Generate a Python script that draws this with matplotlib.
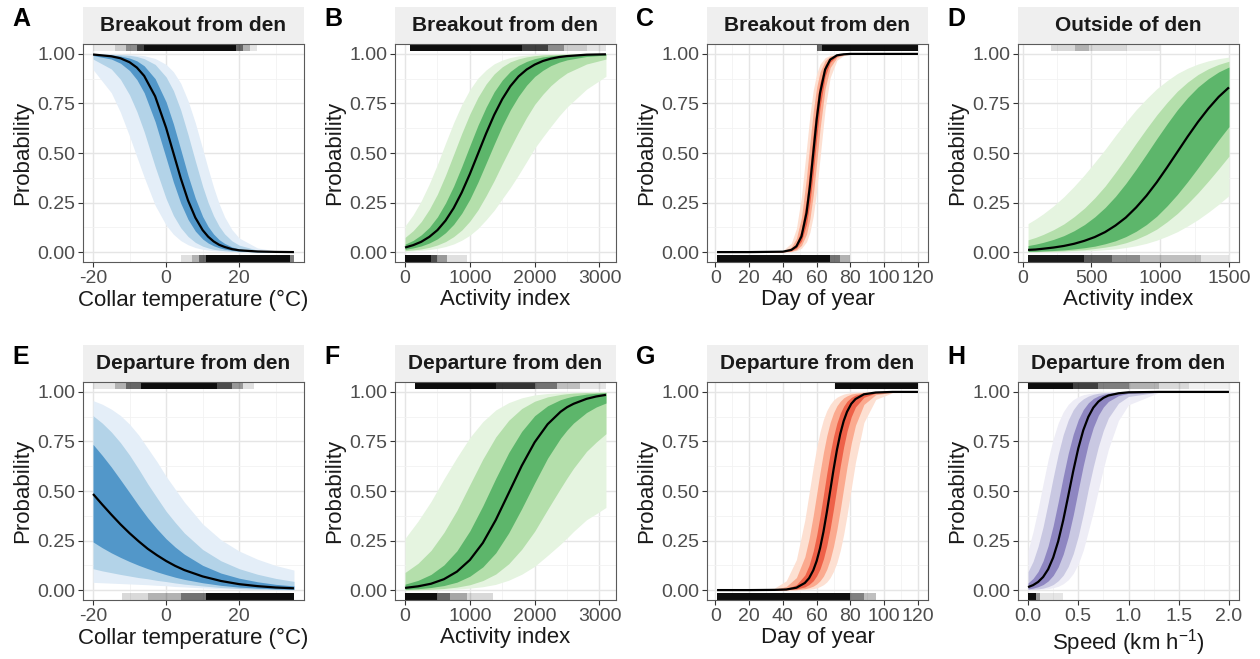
import matplotlib
matplotlib.use('Agg')
import matplotlib.pyplot as plt
import matplotlib.transforms as mtransforms
from matplotlib.patches import Rectangle

plt.rcParams['font.family'] = ['Liberation Sans', 'DejaVu Sans']
plt.rcParams['mathtext.default'] = 'regular'
plt.rcParams['axes.unicode_minus'] = False

# ---- panel A: breakout vs collar temperature
a_x = [-20, -15, -12.5, -10, -8, -6, -3, 0, 2, 4, 6, 8, 10, 11.5, 13, 14.5, 16, 18, 20, 25, 30, 35]
a_med = [.997, .988, .978, .958, .931, .889, .786, .627, .500, .373, .261, .174, .111, .078, .054, .037, .026, .015, .009, .003, .001, .000]
a_lo50 = [.992, .974, .953, .916, .870, .804, .658, .475, .353, .247, .165, .106, .066, .046, .032, .022, .015, .009, .005, .001, .000, .000]
a_hi50 = [.999, .995, .989, .979, .965, .940, .875, .758, .647, .518, .387, .272, .180, .129, .091, .063, .044, .026, .016, .004, .001, .000]
a_lo90 = [.974, .924, .872, .793, .709, .607, .431, .270, .185, .123, .079, .049, .030, .021, .014, .010, .007, .004, .002, .001, .000, .000]
a_hi90 = [1.0, .998, .996, .993, .987, .976, .947, .884, .815, .717, .593, .460, .332, .250, .183, .131, .092, .057, .035, .010, .003, .001]
a_lo99 = [.921, .804, .705, .584, .480, .378, .236, .136, .090, .058, .037, .023, .014, .010, .007, .005, .003, .002, .001, .000, .000, .000]
a_hi99 = [1.0, .999, .999, .997, .995, .991, .977, .947, .910, .852, .764, .652, .521, .421, .327, .245, .178, .114, .071, .021, .006, .002]
a_rug_top = [(-20, -14, .08), (-14, -11, .2), (-11, -8, .45), (-8, -6, .75), (-6, 19, .95),
             (19, 21, .6), (21, 23, .3), (23, 25, .1)]
a_rug_bot = [(4, 7, .12), (7, 9, .3), (9, 11, .6), (11, 34, .95), (34, 35, .5)]

# ---- panel B: breakout vs activity
b_x = [0, 125, 250, 375, 500, 625, 750, 875, 1000, 1125, 1250, 1375, 1500, 1625, 1750, 1875, 2000, 2125, 2250, 2375, 2500, 2800, 3100]
b_med = [.023, .035, .052, .077, .111, .159, .222, .301, .394, .496, .598, .692, .772, .837, .886, .921, .946, .964, .976, .984, .989, .996, .998]
b_lo50 = [.014, .021, .031, .046, .067, .098, .140, .196, .267, .353, .448, .544, .637, .718, .786, .842, .886, .917, .941, .958, .970, .987, .994]
b_hi50 = [.040, .059, .087, .125, .178, .248, .333, .432, .537, .640, .731, .809, .868, .912, .942, .962, .976, .985, .990, .994, .996, .999, 1.0]
b_lo90 = [.007, .011, .016, .024, .036, .053, .078, .111, .156, .213, .284, .361, .445, .526, .605, .679, .745, .796, .840, .875, .904, .949, .974]
b_hi90 = [.074, .108, .154, .216, .293, .388, .493, .599, .697, .781, .848, .899, .935, .960, .975, .985, .991, .995, .997, .998, .999, 1.0, 1.0]
b_lo99 = [.004, .006, .009, .013, .019, .028, .041, .060, .085, .119, .163, .211, .269, .326, .389, .456, .524, .580, .634, .686, .732, .822, .887]
b_hi99 = [.132, .188, .259, .345, .443, .550, .653, .745, .820, .878, .919, .950, .969, .982, .990, .994, .997, .998, .999, .999, 1.0, 1.0, 1.0]
b_rug_top = [(80, 1800, .95), (1800, 2200, .75), (2200, 2450, .45), (2450, 2800, .2), (2800, 3100, .1)]
b_rug_bot = [(0, 400, .95), (400, 500, .7), (500, 650, .4), (650, 950, .12)]

# ---- panel C: breakout vs day of year
c_x = [1, 20, 40, 45, 48, 51, 54, 56, 58, 60, 62, 65, 68, 72, 76, 80, 90, 120]
c_med = [0, 0, .002, .011, .029, .079, .198, .332, .500, .668, .802, .921, .971, .993, .998, 1.0, 1.0, 1.0]
c_lo50 = [0, 0, .001, .007, .020, .055, .142, .250, .401, .574, .731, .886, .957, .989, .997, .999, 1.0, 1.0]
c_hi50 = [0, 0, .003, .016, .043, .114, .269, .426, .599, .750, .858, .945, .980, .995, .999, 1.0, 1.0, 1.0]
c_lo90 = [0, 0, .001, .004, .012, .034, .091, .168, .289, .450, .622, .825, .931, .982, .996, .999, 1.0, 1.0]
c_hi90 = [0, 0, .005, .025, .069, .175, .378, .550, .711, .832, .909, .966, .988, .997, .999, 1.0, 1.0, 1.0]
c_lo99 = [0, 0, 0, .002, .007, .019, .052, .100, .182, .310, .475, .721, .881, .968, .992, .998, 1.0, 1.0]
c_hi99 = [0, 0, .008, .045, .119, .279, .525, .690, .818, .900, .948, .981, .993, .998, 1.0, 1.0, 1.0, 1.0]
c_rug_top = [(60, 63, .6), (63, 120, .95)]
c_rug_bot = [(1, 68, .95), (68, 74, .55), (74, 80, .3)]

# ---- panel D: outside of den vs activity
d_x = [40, 95, 150, 225, 300, 375, 450, 525, 600, 675, 750, 825, 900, 975, 1050, 1125, 1200, 1275, 1350, 1425, 1500]
d_med = [.011, .013, .017, .023, .031, .042, .057, .076, .101, .134, .174, .225, .284, .352, .427, .505, .583, .657, .724, .783, .831]
d_lo50 = [.003, .004, .006, .008, .011, .016, .022, .030, .042, .057, .078, .105, .139, .181, .233, .291, .356, .425, .496, .566, .633]
d_hi50 = [.033, .040, .049, .064, .083, .108, .139, .178, .225, .281, .346, .418, .494, .572, .647, .718, .780, .833, .875, .909, .934]
d_lo90 = [.002, .002, .003, .004, .006, .009, .012, .018, .025, .034, .047, .065, .088, .116, .153, .195, .245, .299, .358, .420, .484]
d_hi90 = [.062, .074, .089, .113, .142, .179, .222, .274, .333, .402, .474, .549, .622, .692, .755, .812, .858, .896, .925, .947, .963]
d_lo99 = [.001, .001, .001, .002, .003, .004, .006, .008, .012, .016, .023, .032, .044, .060, .080, .103, .132, .164, .201, .241, .285]
d_hi99 = [.144, .167, .193, .233, .279, .332, .390, .453, .518, .588, .655, .718, .773, .824, .865, .901, .928, .949, .965, .976, .984]
d_rug_top = [(210, 380, .15), (380, 480, .3), (480, 760, .15), (760, 1000, .08)]
d_rug_bot = [(40, 450, .9), (450, 650, .65), (650, 850, .45), (850, 1300, .25), (1300, 1500, .1)]

# ---- panel E: departure vs collar temperature
e_x = [-20, -17.5, -15, -12.5, -10, -7.5, -5, -2.5, 0, 2.5, 5, 10, 15, 20, 25, 30, 35]
e_med = [.485, .432, .381, .332, .287, .246, .208, .176, .147, .122, .101, .069, .046, .030, .020, .013, .009]
e_lo50 = [.243, .214, .188, .165, .144, .125, .108, .092, .078, .065, .054, .037, .024, .015, .010, .006, .004]
e_hi50 = [.735, .680, .621, .557, .492, .426, .364, .309, .259, .217, .181, .125, .086, .060, .042, .029, .021]
e_lo90 = [.108, .097, .088, .079, .071, .063, .057, .049, .043, .036, .030, .021, .013, .008, .005, .003, .002]
e_hi90 = [.880, .843, .798, .744, .681, .610, .535, .466, .398, .341, .288, .205, .148, .108, .080, .059, .044]
e_lo99 = [.039, .037, .035, .033, .031, .029, .027, .024, .022, .018, .016, .011, .007, .004, .002, .001, .001]
e_hi99 = [.956, .938, .913, .881, .837, .782, .715, .648, .574, .509, .444, .334, .254, .197, .156, .124, .101]
e_rug_top = [(-20, -14, .1), (-14, -11, .3), (-11, -7, .6), (-7, 14, .95), (14, 18, .7),
             (18, 21, .4), (21, 24, .12)]
e_rug_bot = [(-12, -5, .15), (-5, 4, .3), (4, 11, .55), (11, 35, .95)]

# ---- panel F: departure vs activity
f_x = [0, 200, 400, 600, 800, 1000, 1200, 1400, 1600, 1800, 2000, 2200, 2400, 2500, 2600, 2800, 2950, 3100]
f_med = [.011, .019, .032, .055, .093, .152, .238, .354, .490, .627, .746, .837, .900, .923, .940, .965, .977, .985]
f_lo50 = [.004, .007, .013, .023, .040, .070, .117, .188, .289, .411, .541, .666, .767, .808, .843, .896, .924, .944]
f_hi50 = [.030, .049, .079, .127, .198, .299, .425, .564, .694, .801, .880, .930, .961, .971, .979, .989, .993, .996]
f_lo90 = [.001, .002, .004, .008, .015, .027, .048, .081, .133, .206, .297, .407, .514, .566, .615, .700, .747, .789]
f_hi90 = [.089, .135, .200, .291, .402, .532, .661, .773, .857, .916, .953, .975, .987, .991, .994, .997, .998, .999]
f_lo99 = [.000, .001, .001, .003, .005, .010, .017, .029, .050, .080, .120, .175, .232, .263, .296, .355, .385, .417]
f_hi99 = [.261, .348, .447, .561, .669, .770, .850, .909, .946, .970, .985, .992, .996, .998, .998, .999, 1.0, 1.0]
f_rug_top = [(150, 1400, .95), (1400, 2000, .8), (2000, 2350, .55), (2350, 2700, .25), (2700, 3100, .1)]
f_rug_bot = [(0, 500, .95), (500, 700, .6), (700, 950, .35), (950, 1350, .15)]

# ---- panel G: departure vs day of year
g_x = [1, 20, 35, 42, 48, 53, 55.5, 58, 60, 62, 64, 66, 68, 70, 72, 74, 76, 78, 80.5, 83, 88, 95, 105, 120]
g_med = [0, 0, .001, .003, .012, .036, .060, .100, .147, .211, .293, .392, .500, .608, .707, .789, .853, .900, .940, .964, .988, .997, 1.0, 1.0]
g_lo50 = [0, 0, 0, .002, .006, .016, .028, .047, .072, .107, .157, .224, .310, .411, .520, .627, .723, .802, .875, .924, .973, .994, .999, 1.0]
g_hi50 = [0, 0, .002, .007, .027, .076, .125, .198, .277, .373, .480, .589, .690, .776, .843, .893, .928, .953, .972, .984, .995, .999, 1.0, 1.0]
g_lo90 = [0, 0, 0, .001, .002, .007, .012, .020, .031, .047, .070, .105, .154, .221, .306, .406, .515, .622, .741, .832, .937, .986, .998, 1.0]
g_hi90 = [0, 0, .004, .018, .063, .168, .259, .378, .485, .594, .694, .779, .846, .895, .930, .953, .970, .980, .989, .993, .998, 1.0, 1.0, 1.0]
g_lo99 = [0, 0, 0, 0, .001, .003, .004, .007, .011, .018, .027, .041, .063, .095, .139, .201, .281, .378, .513, .646, .846, .962, .996, 1.0]
g_hi99 = [0, 0, .010, .047, .154, .354, .488, .622, .719, .799, .861, .906, .937, .959, .973, .982, .989, .993, .996, .998, .999, 1.0, 1.0, 1.0]
g_rug_top = [(71, 120, .95)]
g_rug_bot = [(1, 80, .95), (80, 88, .5), (88, 95, .25)]

# ---- panel H: departure vs speed
h_x = [0, .05, .1, .15, .2, .25, .3, .35, .4, .45, .5, .55, .6, .65, .7, .75, .8, .9, 1.0, 1.3, 2.0]
h_med = [.015, .025, .041, .066, .105, .164, .246, .352, .475, .601, .715, .807, .874, .921, .951, .970, .982, .993, .998, 1.0, 1.0]
h_lo50 = [.006, .010, .017, .028, .046, .074, .117, .181, .268, .379, .505, .629, .738, .821, .882, .924, .952, .981, .993, 1.0, 1.0]
h_hi50 = [.036, .059, .094, .148, .224, .325, .445, .572, .690, .787, .860, .911, .945, .967, .980, .988, .993, .998, .999, 1.0, 1.0]
h_lo90 = [.002, .004, .006, .010, .017, .028, .047, .075, .119, .184, .272, .384, .510, .623, .724, .806, .869, .943, .977, .999, 1.0]
h_hi90 = [.093, .145, .221, .320, .440, .567, .685, .784, .858, .910, .944, .965, .979, .988, .993, .996, .998, .999, 1.0, 1.0, 1.0]
h_lo99 = [.001, .002, .003, .004, .007, .012, .019, .032, .052, .084, .132, .202, .297, .396, .505, .613, .711, .856, .935, .996, 1.0]
h_hi99 = [.201, .295, .410, .537, .659, .763, .843, .899, .937, .961, .976, .986, .991, .995, .997, .999, .999, 1.0, 1.0, 1.0, 1.0]
h_rug_top = [(0, .45, .95), (.45, .7, .75), (.7, 1.0, .5), (1.0, 1.3, .3), (1.3, 1.6, .15), (1.6, 2.0, .06)]
h_rug_bot = [(0, .08, .95), (.08, .12, .4), (.12, .35, .1)]

# light / mid / dark fills
blues = ('#E4EEF8', '#B3D3E8', '#5297C9')
greens = ('#E5F4E0', '#B4DFAB', '#5DB66B')
reds = ('#FDE0D2', '#FBAA8F', '#EE6148')
purples = ('#EEEDF6', '#C9C8E2', '#8E86C1')

temp_lab = 'Collar temperature (°C)'
act_lab = 'Activity index'
day_lab = 'Day of year'

panels = [
    ('A', 'Breakout from den', a_x, a_med, [(a_lo99, a_hi99), (a_lo90, a_hi90), (a_lo50, a_hi50)],
     blues, temp_lab, [-20, 0, 20], [-10, 10, 30], a_rug_top, a_rug_bot),
    ('B', 'Breakout from den', b_x, b_med, [(b_lo99, b_hi99), (b_lo90, b_hi90), (b_lo50, b_hi50)],
     greens, act_lab, [0, 1000, 2000, 3000], [500, 1500, 2500], b_rug_top, b_rug_bot),
    ('C', 'Breakout from den', c_x, c_med, [(c_lo99, c_hi99), (c_lo90, c_hi90), (c_lo50, c_hi50)],
     reds, day_lab, [0, 20, 40, 60, 80, 100, 120], [10, 30, 50, 70, 90, 110], c_rug_top, c_rug_bot),
    ('D', 'Outside of den', d_x, d_med, [(d_lo99, d_hi99), (d_lo90, d_hi90), (d_lo50, d_hi50)],
     greens, act_lab, [0, 500, 1000, 1500], [250, 750, 1250], d_rug_top, d_rug_bot),
    ('E', 'Departure from den', e_x, e_med, [(e_lo99, e_hi99), (e_lo90, e_hi90), (e_lo50, e_hi50)],
     blues, temp_lab, [-20, 0, 20], [-10, 10, 30], e_rug_top, e_rug_bot),
    ('F', 'Departure from den', f_x, f_med, [(f_lo99, f_hi99), (f_lo90, f_hi90), (f_lo50, f_hi50)],
     greens, act_lab, [0, 1000, 2000, 3000], [500, 1500, 2500], f_rug_top, f_rug_bot),
    ('G', 'Departure from den', g_x, g_med, [(g_lo99, g_hi99), (g_lo90, g_hi90), (g_lo50, g_hi50)],
     reds, day_lab, [0, 20, 40, 60, 80, 100, 120], [10, 30, 50, 70, 90, 110], g_rug_top, g_rug_bot),
    ('H', 'Departure from den', h_x, h_med, [(h_lo99, h_hi99), (h_lo90, h_hi90), (h_lo50, h_hi50)],
     purples, r'Speed (km h$^{-1}$)', [0, .5, 1, 1.5, 2], [.25, .75, 1.25, 1.75], h_rug_top, h_rug_bot),
]

W, H = 1260, 659
col_left = [83, 395, 707, 1018]
row_top = [44, 382]
ax_w, ax_h = 221, 218
strip_h = 37

fig = plt.figure(figsize=(W / 100, H / 100), dpi=100)

for i, (letter, title, x, med, bands, cols, xlab, xt, xt_minor, rug_t, rug_b) in enumerate(panels):
    r, c = divmod(i, 4)
    left, top = col_left[c], row_top[r]
    ax = fig.add_axes([left / W, 1 - (top + ax_h) / H, ax_w / W, ax_h / H])

    for (lo, hi), col in zip(bands, cols):
        ax.fill_between(x, lo, hi, color=col, lw=0, zorder=1)
    ax.plot(x, med, color='black', lw=1.6, zorder=3, solid_capstyle='butt',
            solid_joinstyle='round')

    # rugs of observed 0/1 outcomes
    trans = mtransforms.blended_transform_factory(ax.transData, ax.transAxes)
    for x0, x1, a in rug_t:
        ax.add_patch(Rectangle((x0, 0.97), x1 - x0, 0.03, transform=trans,
                               facecolor='black', alpha=a, lw=0, zorder=2))
    for x0, x1, a in rug_b:
        ax.add_patch(Rectangle((x0, 0.0), x1 - x0, 0.03, transform=trans,
                               facecolor='black', alpha=a, lw=0, zorder=2))

    span = max(x) - min(x)
    ax.set_xlim(min(x) - 0.05 * span, max(x) + 0.05 * span)
    ax.set_ylim(-0.05, 1.05)
    ax.set_xticks(xt)
    ax.set_xticks(xt_minor, minor=True)
    ax.set_yticks([0, .25, .5, .75, 1])
    ax.set_yticks([.125, .375, .625, .875], minor=True)
    ax.set_yticklabels(['0.00', '0.25', '0.50', '0.75', '1.00'])
    if letter == 'H':
        ax.set_xticklabels(['0.0', '0.5', '1.0', '1.5', '2.0'])

    ax.grid(which='major', color='#E5E5E5', lw=1.0, zorder=0)
    ax.grid(which='minor', color='#F2F2F2', lw=0.6, zorder=0)
    ax.set_axisbelow(True)
    ax.tick_params(which='major', length=3.5, width=0.8, color='#333333',
                   labelcolor='#4D4D4D', labelsize=14, pad=2)
    ax.tick_params(which='minor', length=0)
    for sp in ax.spines.values():
        sp.set_color('#5A5A5A')
        sp.set_linewidth(0.8)

    ax.set_xlabel(xlab, fontsize=16, color='#1A1A1A', labelpad=2)
    ax.set_ylabel('Probability', fontsize=16, color='#1A1A1A', labelpad=3)

    # facet strip
    sh = strip_h / ax_h
    ax.add_patch(Rectangle((0, 1), 1, sh, transform=ax.transAxes, facecolor='#EFEFEF',
                           lw=0, clip_on=False))
    ax.text(0.5, 1 + sh / 2, title, transform=ax.transAxes, ha='center', va='center',
            fontsize=15, fontweight='bold', color='#1A1A1A')

    fig.text((left - 71) / W, 1 - (top - 37) / H, letter, fontsize=18, fontweight='bold',
             va='top', ha='left')

fig.savefig('out.png', dpi=100, facecolor='white')
